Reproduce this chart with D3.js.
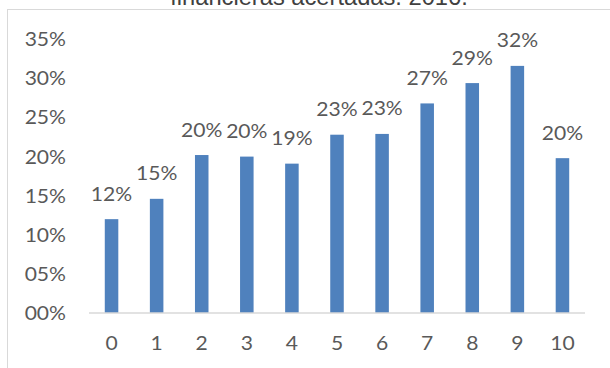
<!DOCTYPE html>
<html>
<head>
<meta charset="utf-8">
<script src="https://cdn.jsdelivr.net/npm/d3@7"></script>
<style>
  html, body { margin: 0; padding: 0; background: #ffffff; }
  svg { display: block; }
  .lbl { font-family: Lato, "Open Sans", sans-serif; font-size: 18.5px; fill: #595959; }
</style>
</head>
<body>
<svg id="chart" width="610" height="368"></svg>
<script>
// Categories on the x axis
const categories = ["0", "1", "2", "3", "4", "5", "6", "7", "8", "9", "10"];
// Share per category
const values = [0.120, 0.146, 0.202, 0.200, 0.191, 0.228, 0.229, 0.268, 0.294, 0.316, 0.198];
// Y axis ticks
const yTicks = [0, 0.05, 0.10, 0.15, 0.20, 0.25, 0.30, 0.35];
const titleText = "financieras acertadas. 2016.";

const plot = { left: 89, right: 585, top: 39.3, bottom: 313 };
const SX = 1.14; // horizontal stretch of label glyphs

const svg = d3.select("#chart");

// widen text horizontally while keeping its anchor point in place
function stretch(sel) {
  sel.each(function () {
    const t = d3.select(this);
    const xx = +t.attr("x") || 0;
    t.attr("x", xx / SX).attr("transform", `scale(${SX},1)`);
  });
}

// chart frame
svg.append("rect")
  .attr("x", 7.5).attr("y", 9.5)
  .attr("width", 700).attr("height", 400)
  .attr("fill", "none").attr("stroke", "#d9d9d9").attr("stroke-width", 1);

// title (top part runs off the canvas)
svg.append("text")
  .attr("x", 319).attr("y", 4.5)
  .attr("text-anchor", "middle")
  .style("font-family", "'Liberation Sans', Arial, sans-serif")
  .style("font-size", "23.7px")
  .style("fill", "#404040")
  .text(titleText);

const x = d3.scaleBand().domain(categories).range([plot.left, plot.right]).paddingInner(0.7).paddingOuter(0.35);
const y = d3.scaleLinear().domain([0, 0.35]).range([plot.bottom, plot.top]);

const pctPad = d => String(Math.round(d * 100)).padStart(2, "0") + "%";

// y axis
const yAxis = svg.append("g")
  .attr("transform", `translate(${plot.left},0)`)
  .call(d3.axisLeft(y).tickValues(yTicks).tickFormat(pctPad).tickSize(0).tickPadding(23));
yAxis.select(".domain").remove();
yAxis.selectAll("text").attr("class", "lbl").attr("font-family", null).attr("font-size", null).attr("fill", null).attr("dy", "0.35em")
  .call(stretch);

// bars
svg.append("g").selectAll("rect")
  .data(values)
  .join("rect")
  .attr("x", (d, i) => x(categories[i]))
  .attr("width", x.bandwidth())
  .attr("y", d => y(d))
  .attr("height", d => y(0) - y(d))
  .attr("fill", "#4f81bd");

// baseline and category labels
const xAxis = svg.append("g")
  .attr("transform", `translate(0,${plot.bottom})`)
  .call(d3.axisBottom(x).tickSize(0).tickPadding(31));
xAxis.select(".domain").attr("stroke", "#d9d9d9").attr("stroke-width", 1.5)
  .attr("d", `M${plot.left},0H${plot.right}`);
xAxis.selectAll("text").attr("class", "lbl").attr("font-family", null).attr("font-size", null).attr("fill", null).attr("dy", "0.35em")
  .call(stretch);

// value labels
svg.append("g").selectAll("g")
  .data(values)
  .join("g")
  .attr("transform", (d, i) => `translate(${x(categories[i]) + x.bandwidth() / 2},${y(d) - 25})`)
  .append("text")
  .attr("class", "lbl")
  .attr("dy", "0.35em")
  .attr("text-anchor", "middle")
  .text(d => d3.format(".0%")(d))
  .call(stretch);
</script>
</body>
</html>
